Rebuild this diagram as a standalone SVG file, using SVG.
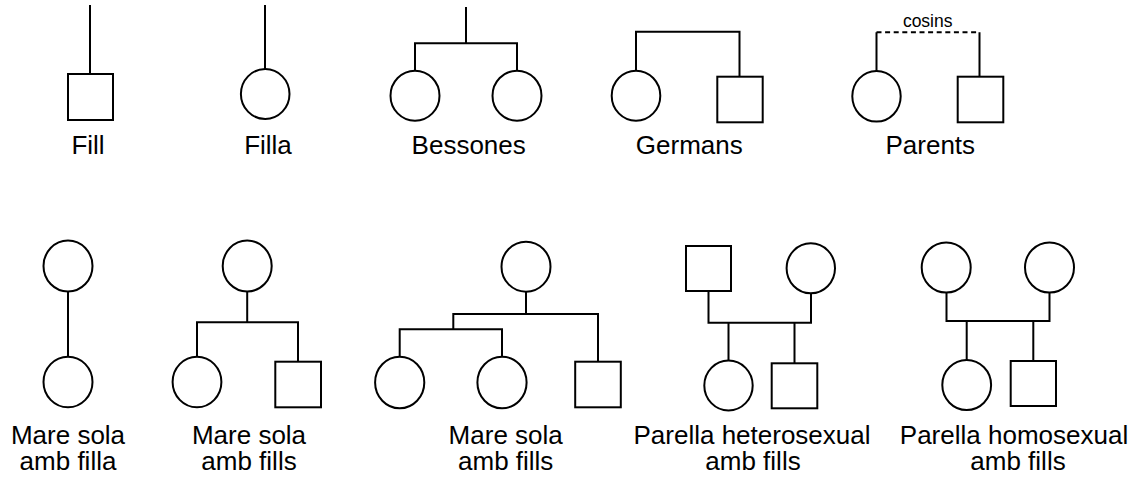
<svg xmlns="http://www.w3.org/2000/svg" width="1138" height="484" viewBox="0 0 1138 484">
<style>
  .s { fill: #ffffff; stroke: #000000; stroke-width: 2; }
  .c { fill: none; stroke: #000000; stroke-width: 2; stroke-linecap: butt; stroke-linejoin: miter; }
  .d { fill: none; stroke: #000000; stroke-width: 2; stroke-dasharray: 5 3.6; }
  .t { font-family: "Liberation Sans", Arial, sans-serif; font-size: 26px; fill: #000000; text-anchor: middle; }
  .small { font-family: "Liberation Sans", Arial, sans-serif; font-size: 17.5px; fill: #000000; text-anchor: middle; }
</style>
<rect x="0" y="0" width="1138" height="484" fill="#ffffff"/>

<g id="connectors">
  <!-- Fill -->
  <path class="c" d="M90,5 V74"/>
  <!-- Filla -->
  <path class="c" d="M265,5 V69"/>
  <!-- Bessones -->
  <path class="c" d="M466,7 V43.3 M415,70.7 V43.3 H517 V70.7"/>
  <!-- Germans -->
  <path class="c" d="M636,70.7 V31.7 H739.5 V76.7"/>
  <!-- Parents -->
  <path class="c" d="M876.5,71 V32.3 M979.5,76.7 V32.3"/>
  <path class="d" d="M876.5,32.3 H979.5"/>
  <!-- Mare sola amb filla -->
  <path class="c" d="M68,291.5 V356.7"/>
  <!-- Mare sola amb fills (2) -->
  <path class="c" d="M247.2,291.5 V322.3 M197,356.7 V322.3 H298 V361.7"/>
  <!-- Mare sola amb fills (3) -->
  <path class="c" d="M526,291.7 V314 M453.3,329.3 V314 H598 V361.7 M399.7,356.7 V329.3 H502 V356.7"/>
  <!-- Parella heterosexual -->
  <path class="c" d="M708.5,291 V322.7 H811 V293.3 M728.5,322.7 V360.5 M794.5,322.7 V363.3"/>
  <!-- Parella homosexual -->
  <path class="c" d="M946.5,292.5 V321 H1049.5 V292.5 M966.7,321 V360 M1033.3,321 V361"/>
</g>

<g id="fill">
  <rect class="s" x="68" y="74" width="45" height="46"/>
  <text class="t" x="88" y="154.3">Fill</text>
</g>
<g id="filla">
  <ellipse class="s" cx="265.2" cy="94" rx="24.3" ry="25"/>
  <text class="t" x="268" y="154.3">Filla</text>
</g>
<g id="bessones">
  <ellipse class="s" cx="415" cy="95.7" rx="24.5" ry="25"/>
  <ellipse class="s" cx="517" cy="95.7" rx="24.5" ry="25"/>
  <text class="t" x="468.7" y="154.3">Bessones</text>
</g>
<g id="germans">
  <ellipse class="s" cx="636" cy="95.7" rx="24.3" ry="25"/>
  <rect class="s" x="717.3" y="76.7" width="45.4" height="45.6"/>
  <text class="t" x="689.3" y="154.3">Germans</text>
</g>
<g id="parents">
  <text class="small" x="927.7" y="27.3">cosins</text>
  <ellipse class="s" cx="876.5" cy="96.3" rx="24.2" ry="25.3"/>
  <rect class="s" x="957.7" y="76.7" width="45.6" height="45.6"/>
  <text class="t" x="930.3" y="154.3">Parents</text>
</g>

<g id="mare-sola-amb-filla">
  <ellipse class="s" cx="68" cy="266" rx="24.5" ry="25.5"/>
  <ellipse class="s" cx="68" cy="382" rx="24.5" ry="25.3"/>
  <text class="t" x="68" y="443.5">Mare sola</text>
  <text class="t" x="68" y="469.5">amb filla</text>
</g>
<g id="mare-sola-amb-fills-2">
  <ellipse class="s" cx="247.2" cy="266" rx="24.5" ry="25.5"/>
  <ellipse class="s" cx="197" cy="382" rx="24.4" ry="25.3"/>
  <rect class="s" x="275.3" y="361.7" width="45.7" height="45.6"/>
  <text class="t" x="249" y="443.5">Mare sola</text>
  <text class="t" x="249" y="469.5">amb fills</text>
</g>
<g id="mare-sola-amb-fills-3">
  <ellipse class="s" cx="526" cy="266.7" rx="24.5" ry="25"/>
  <ellipse class="s" cx="399.7" cy="382.5" rx="24.6" ry="25.8"/>
  <ellipse class="s" cx="502" cy="382.5" rx="24.6" ry="25.8"/>
  <rect class="s" x="575.2" y="361.7" width="45.6" height="45.6"/>
  <text class="t" x="505.7" y="443.5">Mare sola</text>
  <text class="t" x="505.7" y="469.5">amb fills</text>
</g>
<g id="parella-heterosexual">
  <rect class="s" x="686" y="246" width="45" height="45"/>
  <ellipse class="s" cx="810.8" cy="268.3" rx="24.2" ry="25"/>
  <ellipse class="s" cx="728.5" cy="385.5" rx="24.2" ry="25"/>
  <rect class="s" x="771.7" y="363.3" width="45.6" height="45"/>
  <text class="t" x="752" y="443.5">Parella heterosexual</text>
  <text class="t" x="753" y="469.5">amb fills</text>
</g>
<g id="parella-homosexual">
  <ellipse class="s" cx="946.2" cy="267.5" rx="24.5" ry="25"/>
  <ellipse class="s" cx="1049.5" cy="267.5" rx="24.5" ry="25"/>
  <ellipse class="s" cx="966.7" cy="385" rx="24.4" ry="25"/>
  <rect class="s" x="1010.7" y="361" width="45.3" height="45"/>
  <text class="t" x="1014" y="443.5">Parella homosexual</text>
  <text class="t" x="1018" y="469.5">amb fills</text>
</g>
</svg>
